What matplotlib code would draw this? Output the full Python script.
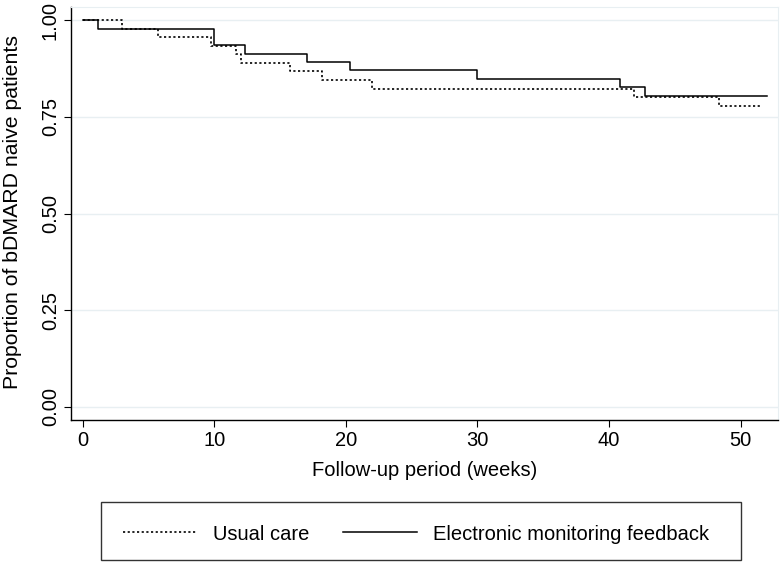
import matplotlib.pyplot as plt
from matplotlib.patches import Rectangle

plt.rcParams['font.family'] = ['Liberation Sans', 'DejaVu Sans']

# Kaplan-Meier step data (weeks, proportion still bDMARD naive)
usual_weeks = [0, 3.0, 5.7, 9.7, 11.6, 12.0, 15.75, 18.2, 22.0, 41.9, 48.4, 51.65]
usual_surv = [1.0, 0.978, 0.956, 0.933, 0.911, 0.889, 0.867, 0.844, 0.822, 0.800, 0.778, 0.778]

emf_weeks = [0, 1.16, 9.95, 12.3, 17.0, 20.3, 30.0, 40.8, 42.7, 52.0]
emf_surv = [1.0, 0.978, 0.935, 0.913, 0.891, 0.870, 0.848, 0.826, 0.804, 0.804]

x_ticks = [0, 10, 20, 30, 40, 50]
y_ticks = [0.0, 0.25, 0.5, 0.75, 1.0]
y_tick_labels = ['0.00', '0.25', '0.50', '0.75', '1.00']

W, H = 780, 563
fs = 14.5
fig = plt.figure(figsize=(W / 100, H / 100), dpi=100)
ax = fig.add_axes([71 / W, 1 - 420 / H, (778 - 71) / W, (420 - 7) / H])

grid_col = '#e8eff2'
for yv in y_ticks:
    ax.axhline(yv, color=grid_col, lw=1.0, zorder=0)

l1, = ax.step(usual_weeks, usual_surv, where='post', color='black', lw=1.2,
              linestyle=(0, (1.3, 1.5)), label='Usual care')
l2, = ax.step(emf_weeks, emf_surv, where='post', color='black', lw=1.1,
              label='Electronic monitoring feedback')

ax.set_xlim(-0.91, 52.85)
ax.set_ylim(-0.0336, 1.0336)
ax.set_xticks(x_ticks)
ax.set_yticks(y_ticks)
ax.set_yticklabels(y_tick_labels, rotation=90, va='center')
ax.tick_params(axis='both', direction='out', length=5, width=0.8, labelsize=fs, pad=3)

for s in ['top', 'right']:
    ax.spines[s].set_color(grid_col)
for s in ['left', 'bottom']:
    ax.spines[s].set_color('black')
    ax.spines[s].set_linewidth(1.0)

fig.text(13 / W, 1 - 212 / H, 'Proportion of bDMARD naive patients', rotation=90,
         ha='center', va='center', fontsize=15.3)
fig.text(425 / W, 1 - 470 / H, 'Follow-up period (weeks)', ha='center', va='center',
         fontsize=fs)

fig.patches.append(Rectangle((101 / W, 1 - 560 / H), (741 - 101) / W, (560 - 502) / H,
                             transform=fig.transFigure, fill=False,
                             edgecolor='#333333', lw=1.0))
fig.legend(handles=[l1, l2], loc='center left', bbox_to_anchor=(105 / W, 1 - 534 / H),
           ncol=2, frameon=False, fontsize=fs, handlelength=3.65, handletextpad=0.8,
           columnspacing=1.7)

fig.savefig('out.png', dpi=100)
